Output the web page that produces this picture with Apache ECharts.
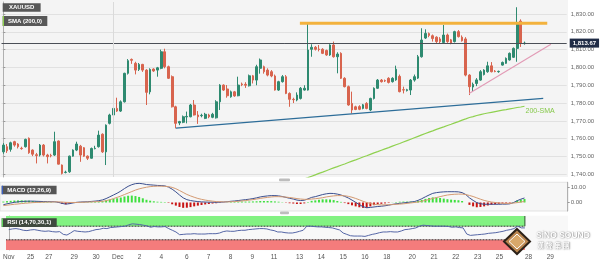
<!DOCTYPE html>
<html><head><meta charset="utf-8">
<script src="https://cdn.jsdelivr.net/npm/echarts@6/dist/echarts.min.js"></script>
<style>html,body{margin:0;padding:0;background:#fff}#c{width:604px;height:263px}</style>
</head><body><div id="c"></div>
<script>
// ---------- data ----------
const SLOT_COUNT = 154; // 4-hour slots on the time axis (incl. empty future slots)
const tickIndex = [0,6,11,18,24,30,36,42,49,55,61,67,73,80,86,92,98,104,111,117,123,129,135,143,149];
const tickText  = ['Nov','25','27','29','30','Dec','2','4','6','7','8','9','11','13','14','15','16','18','20','21','22','23','25','28','29'];
const priceTicks = [1740,1750,1760,1770,1780,1790,1800,1810,1820,1830];
const macdTicks = [0,10];
const lastPrice = 1813.67;

const open = [1752.6,1755.5,1754.0,1758.3,1757.0,1754.6,1755.5,1760.2,1753.6,1751.0,
1750.8,1756.4,1750.8,1750.6,1750.8,1758.7,1745.2,1741.0,1741.4,1750.2,
1753.6,1755.8,1754.9,1750.2,1749.0,1754.4,1755.5,1762.5,1752.6,1768.6,
1773.3,1777.0,1775.5,1780.7,1796.7,1804.5,1802.3,1798.9,1801.7,1798.5,
1786.3,1799.1,1798.5,1799.5,1808.8,1800.4,1794.8,1777.9,1768.8,1769.2,
1772.2,1772.3,1778.9,1773.3,1772.9,1771.4,1773.3,1772.0,1771.7,1780.7,
1790.1,1787.9,1783.5,1786.3,1784.1,1790.7,1790.5,1789.7,1795.3,1792.9,
1799.5,1800.4,1798.5,1797.6,1795.2,1787.3,1792.0,1794.8,1785.4,1782.1,
1781.7,1782.6,1787.3,1787.3,1810.2,1811.3,1810.3,1810.2,1809.5,1807.0,
1812.6,1806.0,1807.9,1793.9,1789.2,1779.8,1777.9,1778.0,1777.0,1779.8,
1776.1,1782.6,1788.3,1792.9,1792.6,1793.9,1792.0,1793.0,1795.0,1787.5,
1787.0,1787.3,1792.9,1794.0,1806.0,1816.5,1819.0,1817.8,1817.0,1816.0,
1814.0,1818.2,1815.5,1814.5,1820.1,1817.0,1816.0,1795.7,1789.0,1791.0,
1792.9,1796.0,1797.6,1800.9,1797.9,1797.6,1801.3,1802.3,1804.2,1805.7,
1810.7,1826.0,1813.4];
const high = [1757.5,1757.0,1758.3,1758.8,1757.5,1755.5,1760.0,1760.7,1754.0,1752.0,
1757.0,1757.0,1751.5,1751.5,1763.9,1759.0,1745.5,1742.0,1750.5,1754.0,
1758.3,1756.5,1755.3,1750.6,1755.0,1756.0,1764.5,1763.0,1768.0,1774.0,
1780.0,1783.0,1781.5,1797.0,1804.7,1805.0,1803.2,1802.5,1802.0,1799.0,
1799.5,1799.5,1800.3,1810.0,1810.5,1801.0,1795.5,1778.5,1770.0,1773.0,
1775.2,1779.5,1781.7,1775.5,1774.0,1774.5,1774.0,1774.5,1781.6,1790.6,
1790.5,1790.1,1787.0,1786.8,1794.8,1791.5,1791.7,1796.0,1795.8,1801.5,
1805.0,1801.0,1799.5,1798.5,1796.0,1792.5,1795.7,1795.7,1786.0,1783.0,
1786.0,1789.0,1790.0,1824.8,1813.0,1812.0,1812.6,1810.8,1810.0,1813.0,
1814.5,1808.5,1808.5,1794.5,1789.8,1786.4,1778.5,1778.8,1779.5,1780.5,
1783.0,1788.8,1793.5,1793.5,1793.2,1794.5,1794.5,1801.0,1796.0,1789.2,
1788.0,1793.5,1796.0,1807.0,1822.0,1821.4,1819.6,1818.5,1817.5,1817.0,
1823.8,1819.0,1816.0,1820.6,1821.0,1818.0,1817.0,1796.2,1791.5,1794.0,
1798.5,1799.0,1803.2,1803.0,1798.5,1798.2,1803.3,1805.6,1808.4,1811.2,
1833.8,1827.0,1814.5];
const low = [1751.5,1752.0,1752.7,1755.5,1754.5,1753.8,1755.0,1751.5,1750.2,1746.1,
1750.0,1750.0,1746.1,1749.5,1750.3,1745.5,1739.9,1740.5,1740.8,1749.9,
1753.0,1747.0,1749.8,1748.0,1748.8,1754.0,1755.0,1752.0,1745.2,1768.0,
1772.5,1775.0,1775.0,1780.3,1796.0,1802.0,1796.1,1798.0,1797.5,1778.9,
1784.9,1797.5,1794.8,1799.0,1799.5,1793.5,1777.5,1765.8,1767.6,1768.7,
1768.6,1772.0,1773.0,1768.3,1772.0,1771.0,1771.5,1771.5,1771.3,1776.1,
1786.8,1783.0,1783.0,1783.5,1783.8,1789.5,1788.5,1789.3,1791.0,1790.0,
1796.5,1796.5,1795.0,1794.5,1787.0,1786.8,1791.5,1785.0,1777.9,1780.0,
1781.0,1782.0,1787.0,1787.0,1806.0,1809.5,1809.0,1807.5,1806.5,1806.5,
1805.5,1796.7,1793.5,1788.8,1778.5,1774.2,1776.0,1776.0,1776.5,1776.5,
1775.5,1782.0,1788.0,1791.5,1791.8,1791.0,1791.5,1792.5,1786.0,1785.4,
1786.5,1784.5,1792.0,1793.5,1805.5,1816.0,1817.0,1814.5,1813.5,1813.5,
1813.5,1813.8,1813.0,1814.0,1816.8,1814.5,1795.0,1784.5,1786.5,1789.5,
1792.5,1795.5,1797.0,1797.2,1797.3,1797.0,1801.0,1802.0,1803.8,1805.3,
1803.2,1811.5,1812.8];
const close = [1756.4,1753.2,1757.7,1756.4,1755.5,1754.4,1759.6,1752.1,1751.3,1750.5,
1756.4,1750.8,1749.9,1750.4,1758.3,1745.7,1740.5,1741.2,1750.2,1753.6,
1757.0,1750.8,1750.2,1749.0,1754.5,1754.6,1762.0,1752.6,1767.6,1773.3,
1777.0,1775.5,1780.7,1796.7,1803.8,1804.0,1798.5,1801.7,1798.5,1786.0,
1798.9,1798.0,1799.8,1808.8,1800.4,1793.9,1777.9,1768.6,1769.6,1772.3,
1772.5,1778.9,1773.3,1772.3,1773.1,1773.7,1772.3,1773.7,1780.7,1790.1,
1787.3,1784.1,1786.3,1784.0,1790.1,1790.3,1790.0,1795.3,1792.9,1800.4,
1804.2,1797.6,1795.7,1795.2,1787.3,1792.0,1794.8,1785.4,1782.1,1781.9,
1784.5,1788.3,1788.3,1809.8,1811.3,1810.2,1810.1,1807.9,1807.0,1812.6,
1806.0,1807.5,1793.9,1789.2,1778.9,1776.1,1776.4,1776.5,1779.0,1777.0,
1782.6,1788.3,1792.9,1792.0,1792.4,1791.6,1793.9,1799.0,1786.4,1787.3,
1787.5,1792.9,1794.8,1806.0,1815.4,1819.1,1818.0,1816.2,1814.5,1814.5,
1818.2,1814.5,1813.5,1820.1,1817.3,1815.0,1795.7,1789.2,1790.5,1793.0,
1797.6,1798.5,1800.9,1797.6,1797.7,1797.8,1802.8,1805.1,1807.9,1810.7,
1824.8,1813.5,1813.67];

const smaStart = 81;
const sma200Values = [1736.6,1737.4,1738.1,1738.9,1739.7,1740.5,1741.2,1742.0,1742.8,1743.6,
1744.3,1745.1,1745.8,1746.6,1747.4,1748.1,1748.9,1749.7,1750.4,1751.2,
1752.0,1752.7,1753.5,1754.3,1755.0,1755.8,1756.6,1757.3,1758.1,1758.9,
1759.7,1760.5,1761.3,1762.1,1762.9,1763.7,1764.4,1765.2,1765.9,1766.6,
1767.4,1768.1,1768.9,1769.6,1770.4,1771.1,1771.9,1772.4,1773.0,1773.5,
1774.0,1774.4,1774.8,1775.2,1775.6,1776.0,1776.3,1776.7,1777.1,1777.5,
1777.8,1778.2];

const macdLine = [-1.5,-0.9,-0.4,0.1,0.4,0.7,0.8,0.9,0.9,0.8,
0.7,0.6,0.6,0.5,0.5,0.1,-0.6,-1.1,-0.8,-0.3,
0.1,0.3,0.4,0.5,0.7,0.9,1.2,1.7,2.6,3.8,
5.0,6.2,7.6,9.3,10.8,11.9,12.6,12.8,12.5,12.0,
11.8,11.6,11.4,11.3,11.1,10.3,8.9,7.1,5.0,3.1,
1.9,1.3,0.9,0.6,0.4,0.3,0.2,0.2,0.1,0.2,
0.3,0.5,0.8,1.0,1.3,1.6,1.9,2.2,2.6,3.1,
3.7,4.1,4.4,4.6,4.6,4.4,4.0,3.4,2.8,2.3,
1.6,1.3,1.5,2.4,3.4,3.9,4.6,5.3,5.8,6.1,
6.0,5.6,5.0,4.1,3.0,1.6,0.1,-1.4,-2.8,-3.5,
-3.3,-3.0,-2.7,-2.5,-2.2,-1.8,-1.3,-0.9,-0.6,-0.3,
0.0,0.3,0.6,1.4,2.5,3.8,5.0,6.1,6.6,6.9,
7.1,7.2,7.2,7.2,7.1,6.6,5.3,3.1,1.4,-0.1,
-0.8,-1.2,-1.2,-1.2,-1.2,-1.2,-1.1,-1.1,-0.9,-0.1,
1.2,2.2,3.0];
const macdSignal = [-2.1,-1.8,-1.5,-1.2,-1.0,-0.7,-0.5,-0.3,-0.1,0.0,
0.1,0.2,0.3,0.3,0.4,0.4,0.3,0.1,0.0,0.0,
0.0,0.1,0.2,0.3,0.4,0.5,0.6,0.8,1.2,1.8,
2.6,3.4,4.3,5.3,6.3,7.3,8.3,9.1,9.7,10.2,
10.6,10.8,10.9,10.9,10.8,10.6,10.1,9.2,8.0,6.7,
5.4,4.4,3.5,2.7,2.1,1.6,1.2,0.9,0.6,0.5,
0.4,0.4,0.5,0.6,0.8,1.0,1.3,1.6,1.9,2.3,
2.7,3.1,3.4,3.7,3.9,3.9,3.8,3.6,3.3,3.0,
2.6,2.3,2.1,2.1,2.3,2.5,2.8,3.2,3.7,4.1,
4.4,4.6,4.6,4.5,4.1,3.5,2.7,1.8,0.8,0.0,
-0.7,-1.2,-1.5,-1.6,-1.6,-1.5,-1.4,-1.2,-1.1,-0.9,
-0.6,-0.3,0.0,0.3,0.8,1.4,2.0,2.7,3.3,3.9,
4.5,5.0,5.3,5.5,5.6,5.6,5.3,4.7,4.0,3.1,
2.2,1.4,0.8,0.3,0.0,-0.3,-0.5,-0.6,-0.6,-0.4,
-0.1,0.3,0.7];
const macdHist = [0.6,0.9,1.1,1.3,1.4,1.4,1.3,1.2,1.0,0.8,
0.6,0.4,0.3,0.2,0.1,-0.3,-0.9,-1.2,-0.8,-0.3,
0.1,0.2,0.2,0.2,0.3,0.4,0.6,0.9,1.4,2.0,
2.4,2.8,3.3,4.0,4.5,4.6,4.3,3.7,2.8,1.8,
1.2,0.8,0.5,0.4,0.3,-0.3,-1.2,-2.1,-3.0,-3.6,
-3.5,-3.1,-2.6,-2.1,-1.7,-1.3,-1.0,-0.7,-0.5,-0.3,
-0.1,0.1,0.3,0.4,0.5,0.6,0.6,0.6,0.7,0.8,
1.0,1.0,1.0,0.9,0.7,0.5,0.2,-0.2,-0.5,-0.7,
-1.0,-1.0,-0.6,0.3,1.1,1.4,1.8,2.1,2.1,2.0,
1.6,1.0,0.4,-0.4,-1.1,-1.9,-2.6,-3.2,-3.6,-3.5,
-2.6,-1.8,-1.2,-0.9,-0.6,-0.3,0.1,0.3,0.5,0.6,
0.6,0.6,0.6,1.1,1.7,2.4,3.0,3.4,3.3,3.0,
2.6,2.2,1.9,1.7,1.5,1.0,0.0,-1.6,-2.6,-3.2,
-3.0,-2.6,-2.0,-1.5,-1.2,-0.9,-0.6,-0.5,-0.3,0.3,
1.3,1.9,2.3];
const rsi = [60,62,63,61,58,57,59,60,58,56,
55,56,54,53,54,46,44,50,57,55,
54,53,54,57,60,61,64,63,66,67,
68,69,70,74,77,76,75,73,71,67,
69,68,68,69,63,58,53,45,46,47,
47,48,47,47,47,48,48,48,50,54,
56,55,55,57,58,58,60,61,62,63,
63,62,59,57,53,53,51,50,50,52,
55,58,70,70,69,68,68,67,66,65,
62,59,50,46,42,41,41,41,40,43,
46,48,51,53,53,54,53,53,56,60,
61,63,65,70,73,72,71,70,70,70,
70,69,67,68,66,65,47,43,44,45,
46,47,49,50,51,53,55,58,60,63,
70,65,65];

// trend lines drawn on the chart: [slot position, price]
const resistanceLine = [[80.8,1824.8],[148.2,1824.8]];
const supportLine    = [[47.0,1765.9],[147.1,1782.6]];
const risingLine     = [[126.9,1785.4],[149.2,1813.0]];
const rsiUpper = 70, rsiLower = 30, rsiTop = 100, rsiBottom = 0;

// ---------- build ----------
const cats = Array.from({length: SLOT_COUNT}, (_, i) => String(i));
const labelMap = {};
tickIndex.forEach((idx, k) => labelMap[idx] = tickText[k]);
const candleData = open.map((o, i) => [o, close[i], low[i], high[i]]);
const sma200 = cats.map((_, i) => (i >= smaStart && i - smaStart < sma200Values.length) ? sma200Values[i - smaStart] : null);
const lastIdx = open.length - 1;
const bandStart = -0.9;

const FONT = 'Liberation Sans, Arial, sans-serif';
const fmt2 = v => Number(v).toLocaleString('en-US', {minimumFractionDigits: 2, maximumFractionDigits: 2});
const LEFT = 1.5, WIDTH = 565.2;

const chart = echarts.init(document.getElementById('c'), null, {renderer: 'canvas'});
const catAxis = (g, showLabels) => ({
  type: 'category', gridIndex: g, data: cats, boundaryGap: true,
  axisLine: {show: false}, axisTick: {show: false},
  axisLabel: showLabels ? {
    show: true, interval: (idx) => labelMap[idx] !== undefined,
    formatter: (v, idx) => labelMap[idx] || '', fontSize: 6.5, color: '#555', margin: 4, fontFamily: FONT
  } : {show: false},
  splitLine: {show: false}
});
const valXAxis = g => ({type: 'value', gridIndex: g, min: -0.5, max: SLOT_COUNT - 0.5, show: false});

const option = {
  animation: false,
  backgroundColor: '#ffffff',
  grid: [
    {left: LEFT, width: WIDTH, top: 2, height: 175},
    {left: LEFT, width: WIDTH, top: 182.3, height: 28.7},
    {left: LEFT, width: WIDTH, top: 216, height: 34}
  ],
  xAxis: [catAxis(0, false), catAxis(1, false), catAxis(2, true), valXAxis(0), valXAxis(2)],
  yAxis: [
    {type: 'value', gridIndex: 0, position: 'right', offset: 1, min: 1738.48, max: 1836.74,
     axisLine: {show: true, lineStyle: {color: '#b0b0b0'}},
     axisTick: {show: true, length: 2, customValues: priceTicks, lineStyle: {color: '#999'}},
     axisLabel: {customValues: priceTicks, formatter: fmt2, fontSize: 6, color: '#666', margin: 3, fontFamily: FONT},
     splitLine: {show: true, lineStyle: {color: '#e1e1e1', width: 1}}},
    {type: 'value', gridIndex: 1, position: 'right', offset: 1, min: -5.7, max: 13.5,
     axisLine: {show: true, lineStyle: {color: '#b0b0b0'}},
     axisTick: {show: true, length: 2, customValues: macdTicks, lineStyle: {color: '#999'}},
     axisLabel: {customValues: macdTicks, formatter: fmt2, fontSize: 6, color: '#666', margin: 3, fontFamily: FONT},
     splitLine: {show: false}},
    {type: 'value', gridIndex: 2, position: 'right', offset: 1, min: 0, max: 100,
     axisLine: {show: true, lineStyle: {color: '#b0b0b0'}},
     axisTick: {show: false}, axisLabel: {show: false}, splitLine: {show: false}}
  ],
  series: [
    {type: 'candlestick', xAxisIndex: 0, yAxisIndex: 0, data: candleData, barWidth: 2.2, clip: false,
     itemStyle: {color: '#2e8a70', color0: '#d8644e', borderColor: '#2e8a70', borderColor0: '#d8644e', borderWidth: 1},
     markLine: {silent: true, symbol: ['none','none'], data: [{yAxis: lastPrice}],
       lineStyle: {color: '#4b4f57', type: 'solid', width: 1},
       label: {position: 'end', formatter: () => fmt2(lastPrice), backgroundColor: '#1f2b45', color: '#fff',
               fontSize: 6, fontWeight: 'bold', padding: [1.5, 3], distance: 3, fontFamily: FONT}}},
    {type: 'line', xAxisIndex: 0, yAxisIndex: 0, data: sma200, symbol: 'none', connectNulls: false,
     lineStyle: {color: '#8fd14f', width: 1.2},
     endLabel: {show: true, formatter: '200-SMA', color: '#86c84a', fontSize: 7, fontFamily: FONT, distance: 1, offset: [0, 4.5]}},
    {type: 'line', xAxisIndex: 3, yAxisIndex: 0, data: supportLine, symbol: 'none', lineStyle: {color: '#2d6d99', width: 1.3},
     markLine: {silent: true, symbol: ['none','none'], label: {show: false}, data: [{xAxis: tickIndex[5]}],
       lineStyle: {color: '#dadada', type: 'solid', width: 1}}},
    {type: 'line', xAxisIndex: 3, yAxisIndex: 0, data: risingLine, symbol: 'none', lineStyle: {color: '#e29ab5', width: 1.1}},
    {type: 'line', xAxisIndex: 3, yAxisIndex: 0, data: resistanceLine, symbol: 'none', lineStyle: {color: '#f3b23d', width: 3}},
    // MACD
    {type: 'bar', xAxisIndex: 1, yAxisIndex: 1, data: macdHist, barWidth: 2,
     itemStyle: {color: p => p.value >= 0 ? '#3fe03f' : '#c81414'}},
    {type: 'line', xAxisIndex: 1, yAxisIndex: 1, data: macdLine, symbol: 'none', lineStyle: {color: '#3b4f8f', width: 1}},
    {type: 'line', xAxisIndex: 1, yAxisIndex: 1, data: macdSignal, symbol: 'none', lineStyle: {color: '#d49a72', width: 1}},
    // RSI overbought / oversold bands with dotted level lines
    {type: 'line', xAxisIndex: 4, yAxisIndex: 2, clip: false, data: [[bandStart, rsiTop], [lastIdx, rsiTop]], symbol: 'none',
     lineStyle: {width: 0, opacity: 0}, areaStyle: {origin: rsiUpper, color: '#82f282', opacity: 1}},
    {type: 'line', xAxisIndex: 4, yAxisIndex: 2, clip: false, data: [[bandStart, rsiLower], [lastIdx, rsiLower]], symbol: 'none',
     lineStyle: {width: 0, opacity: 0}, areaStyle: {origin: rsiBottom, color: '#f47c7c', opacity: 1}},
    {type: 'line', xAxisIndex: 4, yAxisIndex: 2, clip: false, data: [[bandStart, rsiUpper], [lastIdx, rsiUpper]], symbol: 'none',
     lineStyle: {color: '#333', type: [2, 1], width: 1}},
    {type: 'line', xAxisIndex: 4, yAxisIndex: 2, clip: false, data: [[bandStart, rsiLower], [lastIdx, rsiLower]], symbol: 'none',
     lineStyle: {color: '#333', type: [2, 1], width: 1}},
    {type: 'line', xAxisIndex: 4, yAxisIndex: 2, clip: false, data: [[lastIdx, rsiUpper], [lastIdx, rsiTop]], symbol: 'none',
     lineStyle: {color: '#2f4f2f', width: 1}},
    {type: 'line', xAxisIndex: 2, yAxisIndex: 2, data: rsi, symbol: 'none', lineStyle: {color: '#5566a6', width: 1}}
  ],
  graphic: [
    {type: 'rect', z: -10, shape: {x: 0, y: 0, width: 568, height: 177}, style: {fill: '#f4f4f4'}},
    {type: 'rect', z: -10, shape: {x: 0, y: 182.3, width: 568, height: 28.7}, style: {fill: '#f6f6f6', stroke: '#dddddd', lineWidth: 0.8}},
    {type: 'rect', z: -10, shape: {x: 0, y: 215.7, width: 568, height: 34.5}, style: {fill: '#f8f8f8'}},
    {type: 'rect', z: 5, shape: {x: 279, y: 178.5, width: 11, height: 2.8, r: 1}, style: {fill: '#bdbdbd'}},
    {type: 'rect', z: 5, shape: {x: 280, y: 211.6, width: 9, height: 2.6, r: 1}, style: {fill: '#bdbdbd'}},
    {type: 'text', z: 20, x: 2.7, y: 3.3, style: {text: 'XAUUSD', fill: '#fff', font: 'bold 6px ' + FONT, backgroundColor: '#585858', padding: [1.2, 6.3, 1.2, 6.3]}},
    {type: 'text', z: 20, x: 2.7, y: 16, style: {text: 'SMA (200,0)', fill: '#fff', font: 'bold 6px ' + FONT, backgroundColor: '#585858', padding: [2, 5.3, 2, 5.3]}},
    {type: 'rect', z: 21, shape: {x: 2.7, y: 16, width: 1.3, height: 10}, style: {fill: '#8fd14f'}},
    {type: 'text', z: 20, x: 1.7, y: 185.7, style: {text: 'MACD (12,26,9)', fill: '#fff', font: 'bold 6px ' + FONT, backgroundColor: '#555', padding: [1.3, 5.6, 1.3, 5.6]}},
    {type: 'rect', z: 21, shape: {x: 1.7, y: 185.7, width: 1.3, height: 8.6}, style: {fill: '#3b5fc0'}},
    {type: 'text', z: 20, x: 1.7, y: 218.3, style: {text: 'RSI (14,70,30,1)', fill: '#fff', font: 'bold 6px ' + FONT, backgroundColor: '#3f4a3f', padding: [1.3, 5.5, 1.3, 5.5]}},
    {type: 'rect', z: 21, shape: {x: 1.7, y: 218.3, width: 1.3, height: 8.4}, style: {fill: '#5fd35f'}},
    // watermark logo
    {type: 'polygon', z: 30, shape: {points: [[517, 229], [530, 241.5], [517, 254], [504, 241.5]]}, style: {fill: '#b9854f', stroke: '#2c2219', lineWidth: 2}},
    {type: 'polygon', z: 31, shape: {points: [[517, 234], [525, 241.5], [517, 249], [509, 241.5]]}, style: {fill: '#d9a86a', stroke: '#ffffff', lineWidth: 1}},
    {type: 'text', z: 30, x: 536, y: 231, style: {text: 'SiNO SOUND', fill: '#ffffff', font: 'bold 8.5px ' + FONT, textShadowColor: 'rgba(0,0,0,0.6)', textShadowBlur: 1.5, textShadowOffsetX: 0.5, textShadowOffsetY: 0.5}},
    {type: 'text', z: 30, x: 537, y: 241.5, style: {text: '漢 聲 集 團', fill: '#ffffff', font: 'bold 7px "Noto Sans CJK TC"', textShadowColor: 'rgba(0,0,0,0.6)', textShadowBlur: 1.5, textShadowOffsetX: 0.5, textShadowOffsetY: 0.5}}
  ]
};
chart.setOption(option);
</script>
</body></html>
